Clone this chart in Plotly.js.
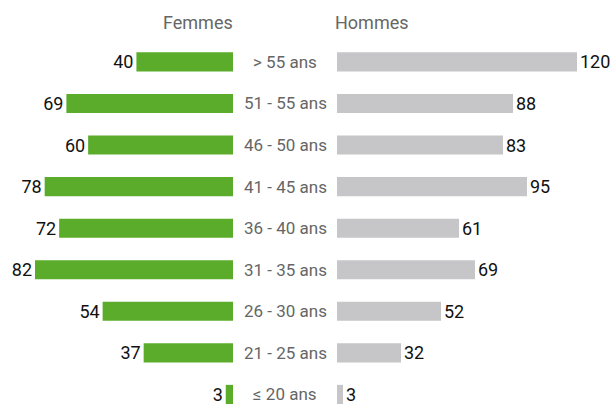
<!DOCTYPE html>
<html><head><meta charset="utf-8">
<script src="https://cdn.plot.ly/plotly-3.0.1.min.js"></script>
<style>html,body{margin:0;padding:0;background:#fff}</style>
</head><body>
<div id="chart" style="width:611px;height:404px"></div>
<script>
const categories = ["≤ 20 ans","21 - 25 ans","26 - 30 ans","31 - 35 ans","36 - 40 ans","41 - 45 ans","46 - 50 ans","51 - 55 ans","> 55 ans"];
const femmes = [3,37,54,82,72,78,60,69,40];
const hommes = [3,32,52,69,61,95,83,88,120];
const headers = ["Femmes","Hommes"];

const FONT = "Roboto, Liberation Sans, sans-serif";
const idx = categories.map((c,i)=>i);

const traces = [
  {type:'bar', orientation:'h', x:femmes, y:idx, xaxis:'x', yaxis:'y',
   marker:{color:'#5aac2a'}, width:0.46, text:femmes.map(String), textposition:'outside',
   constraintext:'none', cliponaxis:false, textfont:{family:FONT,size:18,color:'#111'}, hoverinfo:'none'},
  {type:'bar', orientation:'h', x:hommes, y:idx, xaxis:'x2', yaxis:'y',
   marker:{color:'#c6c6c8'}, width:0.46, text:hommes.map(String), textposition:'outside',
   constraintext:'none', cliponaxis:false, textfont:{family:FONT,size:18,color:'#111'}, hoverinfo:'none'}
];

const annotations = categories.map((c,i)=>({
  text:c, xref:'paper', yref:'y', x:285/611, y:i, showarrow:false,
  xanchor:'center', yanchor:'middle', font:{family:FONT,size:17,color:'#666'}
}));
annotations.push({text:headers[0], xref:'paper', yref:'paper', x:235/611, y:1-22/404,
  showarrow:false, xanchor:'right', yanchor:'middle', font:{family:FONT,size:18,color:'#666'}});
annotations.push({text:headers[1], xref:'paper', yref:'paper', x:333/611, y:1-22/404,
  showarrow:false, xanchor:'left', yanchor:'middle', font:{family:FONT,size:18,color:'#666'}});

const layout = {
  width:611, height:404, margin:{l:0,r:0,t:0,b:0},
  paper_bgcolor:'#fff', plot_bgcolor:'#fff', showlegend:false,
  xaxis:{domain:[0,233/611], range:[96.5,0], visible:false, fixedrange:true},
  xaxis2:{domain:[337/611,1], range:[0,137.0], visible:false, fixedrange:true},
  yaxis:{range:[-0.23,9.49], visible:false, fixedrange:true},
  annotations:annotations
};
Plotly.newPlot('chart', traces, layout, {staticPlot:true, displayModeBar:false});
</script>
</body></html>
